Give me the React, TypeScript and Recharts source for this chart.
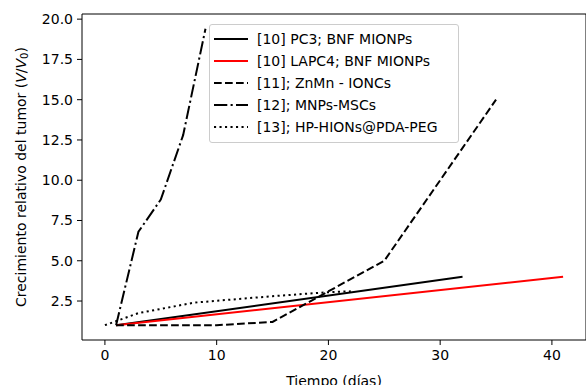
import { LineChart, Line, XAxis, YAxis, Legend } from "recharts";

// days / relative volume (V/V0) per study
const pc3Days = [1, 32];
const pc3Growth = [1, 4];
const lapc4Days = [1, 41];
const lapc4Growth = [1, 4];
const znmnDays = [1, 5, 10, 15, 25, 35];
const znmnGrowth = [1, 1, 1, 1.2, 5, 15];
const mscDays = [1, 3, 5, 7, 9];
const mscGrowth = [1, 6.8, 8.8, 12.8, 19.4];
const hpDays = [0, 1, 3, 8, 15, 20, 22];
const hpGrowth = [1, 1.25, 1.75, 2.4, 2.8, 3.05, 3.1];

const xTicks = [0, 10, 20, 30, 40];
const yTicks = [2.5, 5, 7.5, 10, 12.5, 15, 17.5, 20];

const toPoints = (xs: number[], ys: number[]) => xs.map((x, i) => ({ x, y: ys[i] }));

const series = [
  { name: "[10] PC3; BNF MIONPs", data: toPoints(pc3Days, pc3Growth), color: "#000", dash: undefined },
  { name: "[10] LAPC4; BNF MIONPs", data: toPoints(lapc4Days, lapc4Growth), color: "#ff0000", dash: undefined },
  { name: "[11]; ZnMn - IONCs", data: toPoints(znmnDays, znmnGrowth), color: "#000", dash: "7.7 3.3" },
  { name: "[12]; MNPs-MSCs", data: toPoints(mscDays, mscGrowth), color: "#000", dash: "13.3 3.3 2.1 3.3" },
  { name: "[13]; HP-HIONs@PDA-PEG", data: toPoints(hpDays, hpGrowth), color: "#000", dash: "2.1 3.4" },
];

const FONT = "DejaVu Sans";

const YLabel = (props: any) => {
  const vb = props.viewBox || {};
  const cx = 21;
  const cy = vb.y + vb.height / 2;
  return (
    <text
      x={cx}
      y={cy}
      transform={`rotate(-90, ${cx}, ${cy})`}
      textAnchor="middle"
      dominantBaseline="central"
      fontSize={14}
      fontFamily={FONT}
      fill="#000"
    >
      Crecimiento relativo del tumor (
      <tspan fontStyle="italic">V</tspan>/<tspan fontStyle="italic">V</tspan>
      <tspan fontSize={10} dy={3}>0</tspan>
      <tspan dy={-3}>)</tspan>
    </text>
  );
};

const LegendBox = () => (
  <div
    style={{
      border: "1px solid #cccccc",
      borderRadius: 3,
      background: "rgba(255,255,255,0.8)",
      padding: "3px 0 4px 0",
      fontFamily: FONT,
      fontSize: 14,
      color: "#000",
    }}
  >
    {series.map((s) => (
      <div key={s.name} style={{ display: "flex", alignItems: "center", height: 22 }}>
        <svg width={44} height={10} style={{ marginLeft: 3 }}>
          <line x1={1} y1={5} x2={35} y2={5} stroke={s.color} strokeWidth={2} strokeDasharray={s.dash} />
        </svg>
        <span style={{ whiteSpace: "nowrap" }}>{s.name}</span>
      </div>
    ))}
  </div>
);

const App = () => {
  return (
    <div style={{ position: "absolute", left: 0, top: 0 }}>
      <LineChart width={590} height={385} margin={{ top: 13, right: 3, bottom: 5, left: 0 }}>
        <XAxis
          dataKey="x"
          type="number"
          domain={[-2.05, 43.05]}
          ticks={xTicks}
          allowDataOverflow
          height={40}
          tickSize={5}
          tickMargin={5}
          stroke="#000"
          tick={{ fill: "#000", fontSize: 14, fontFamily: FONT }}
          label={{
            value: "Tiempo (días)",
            position: "insideBottom",
            offset: -6,
            fill: "#000",
            fontSize: 14,
            fontFamily: FONT,
          }}
        />
        <XAxis
          xAxisId="top"
          orientation="top"
          dataKey="x"
          type="number"
          domain={[-2.05, 43.05]}
          allowDataOverflow
          height={1}
          tick={false}
          tickLine={false}
          stroke="#000"
        />
        <YAxis
          type="number"
          domain={[0.08, 20.32]}
          ticks={yTicks}
          allowDataOverflow
          width={82}
          tickSize={5}
          tickMargin={4}
          stroke="#000"
          tickFormatter={(v: number) => v.toFixed(1)}
          tick={{ fill: "#000", fontSize: 14, fontFamily: FONT }}
          label={<YLabel />}
        />
        <YAxis
          yAxisId="right"
          orientation="right"
          type="number"
          domain={[0.08, 20.32]}
          allowDataOverflow
          width={1}
          tick={false}
          tickLine={false}
          stroke="#000"
        />
        <Legend
          layout="horizontal"
          verticalAlign="middle"
          align="center"
          content={<LegendBox />}
          wrapperStyle={{ left: 209, top: 24, width: 250 }}
        />
        {series.map((s) => (
          <Line
            key={s.name}
            data={s.data}
            dataKey="y"
            name={s.name}
            type="linear"
            stroke={s.color}
            strokeWidth={2}
            strokeDasharray={s.dash}
            dot={false}
            activeDot={false}
            isAnimationActive={false}
          />
        ))}
        {/* invisible series bound to the frame axes so they render */}
        <Line
          data={series[0].data}
          dataKey="y"
          xAxisId="top"
          yAxisId="right"
          stroke="none"
          dot={false}
          activeDot={false}
          legendType="none"
          isAnimationActive={false}
        />
      </LineChart>
    </div>
  );
};

export default App;
